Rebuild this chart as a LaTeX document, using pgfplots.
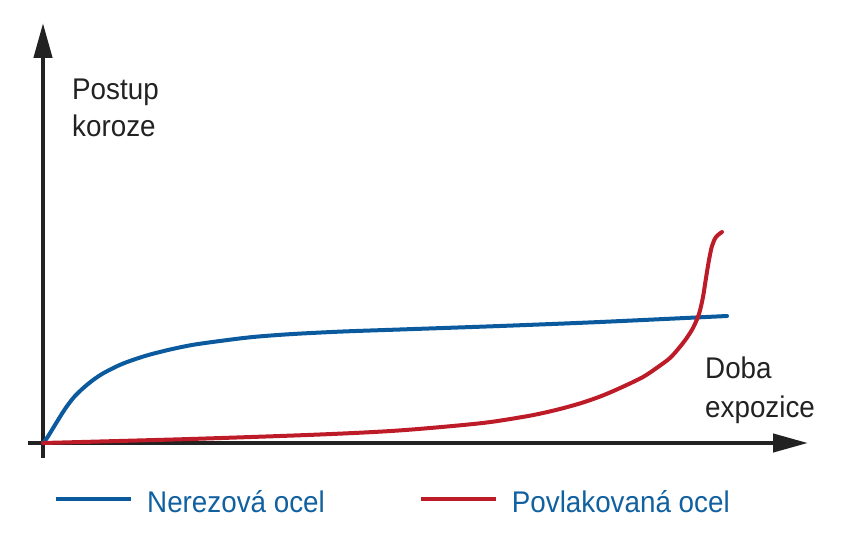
\documentclass[border=0pt]{standalone}
\usepackage{fontspec}
\setmainfont[FakeStretch=0.93]{Liberation Sans}
\usepackage{pgfplots}
\pgfplotsset{compat=1.18}
\usetikzlibrary{arrows.meta}

\definecolor{steelblue}{HTML}{0B5A9E}
\definecolor{coatred}{HTML}{BC1B27}
\definecolor{axisgray}{HTML}{222222}
\definecolor{legendblue}{HTML}{11609F}

\begin{document}
\begin{tikzpicture}
\path[use as bounding box] (-43bp,-91bp) rectangle (810bp,443bp);
\begin{axis}[
    at={(0,0)}, anchor=origin,
    scale only axis,
    width=780bp, height=435bp,
    xmin=-15, xmax=765,
    ymin=-15, ymax=420,
    axis lines=middle,
    axis line style={line width=4.3bp, draw=axisgray, -{Triangle[length=35bp,width=18bp]}},
    xtick=\empty, ytick=\empty,
    clip=false,
    font=\fontsize{30}{36}\selectfont,
    legend columns=2,
    legend style={
        at={(axis cs:11,-59)}, anchor=west,
        draw=none, fill=none, inner sep=0pt,
        nodes={inner sep=0pt, text=legendblue},
        column sep=14bp,
        font=\fontsize{30}{36}\selectfont,
    },
    /tikz/every even column/.append style={column sep=94bp},
    legend image code/.code={\draw[#1, line width=4bp, line cap=butt] (0bp,0.35em) -- (75bp,0.35em);},
]
\addplot[steelblue, line width=4bp, line cap=round, smooth, tension=0.5] coordinates {
    (0,0) (4,5) (12,18) (22,34) (32,47) (45,59) (59,69) (79,79) (102,87)
    (125,93) (149,98) (177,102) (210,106) (250,109) (300,111.5) (357,113.5)
    (457,117) (557,121) (684,127)
};
\addlegendentry{Nerezová ocel}
\addplot[coatred, line width=4bp, line cap=round, smooth, tension=0.5] coordinates {
    (0,0) (57,1.5) (157,4.3) (277,8.5) (357,12.6) (437,19.7) (480,26.1)
    (500,30) (520,34.8) (540,40.5) (560,47.6) (580,56.3) (600,66) (615,76)
    (627,85) (636,95) (643,104) (650,115) (656,129) (660,146) (663,165)
    (666,183) (669,197) (673,206) (679,211)
};
\addlegendentry{Povlakovaná ocel}

\node[anchor=base west, inner sep=0pt, text=axisgray] at (axis cs:29,343) {Postup};
\node[anchor=base west, inner sep=0pt, text=axisgray] at (axis cs:29,306) {koroze};
\node[anchor=base west, inner sep=0pt, text=axisgray] at (axis cs:662,65) {Doba};
\node[anchor=base west, inner sep=0pt, text=axisgray] at (axis cs:662,26) {expozice};
\end{axis}
\end{tikzpicture}
\end{document}
